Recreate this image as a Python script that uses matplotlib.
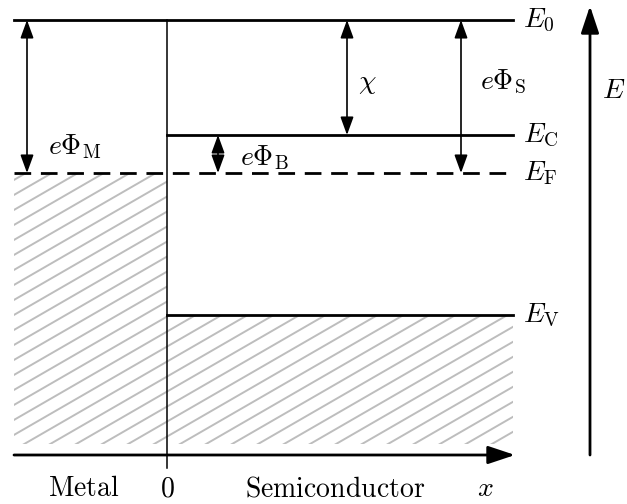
import numpy as np
import matplotlib.pyplot as plt
from matplotlib.patches import Rectangle

plt.rcParams['mathtext.fontset'] = 'cm'

# band energies (arbitrary units, vacuum level at zero)
E_vac = 0.0
E_c = -1.15
E_f = -1.53
E_v = -2.95
E_fill = -4.24          # lower edge of the filled states
E_axis = -4.35

# positions along x
x_left = 0.14
x_junction = 1.67
x_right = 5.13

# where the energy differences are marked
x_phi_m = 0.27
x_phi_b = 2.18
x_chi = 3.47
x_phi_s = 4.61

level_labels = [r'$E_0$', r'$E_\mathrm{C}$', r'$E_\mathrm{F}$', r'$E_\mathrm{V}$']
level_values = [E_vac, E_c, E_f, E_v]

fig = plt.figure(figsize=(6.27, 5.04), dpi=100)
ax = fig.add_axes([0, 0, 1, 1])
ax.set_xlim(0, 6.27)
ax.set_ylim(-4.84, 0.20)
ax.axis('off')

fs = 20
hatch_col = '#bdbdbd'


def hatched(x0, x1, y0, y1):
    clip = Rectangle((x0, y0), x1 - x0, y1 - y0, transform=ax.transData,
                     facecolor='none', edgecolor='none')
    ax.add_patch(clip)
    slope = np.tan(np.radians(30))
    xs = np.array([x0 - 1, x1 + 1])
    for c in np.arange(0.12 - 0.15 * 60, 0.12 + 0.15 * 10, 0.15):
        ln, = ax.plot(xs, slope * xs + c, color=hatch_col, lw=1.4, zorder=1)
        ln.set_clip_path(clip)


# occupied states: metal up to E_F, semiconductor valence band
hatched(x_left, x_junction, E_fill, E_f)
hatched(x_junction, x_right, E_fill, E_v)

# band edges
ax.plot([x_left, x_right], [E_vac, E_vac], color='k', lw=2, zorder=3)
ax.plot([x_junction, x_right], [E_c, E_c], color='k', lw=2, zorder=3)
ax.plot([x_junction, x_right], [E_v, E_v], color='k', lw=2, zorder=3)
ax.plot([x_left, x_right], [E_f, E_f], color='k', lw=2, dashes=(6, 3.5), zorder=3)

# interface, with a tick below the x axis
ax.plot([x_junction, x_junction], [E_vac, E_axis - 0.13], color='k', lw=1.1, zorder=3)

# coordinate arrows
axis_kw = dict(arrowstyle='-|>,head_length=0.75,head_width=0.25',
               mutation_scale=22, lw=2, color='k', shrinkA=0, shrinkB=0)
ax.annotate('', xy=(x_right + 0.02, E_axis), xytext=(x_left, E_axis), arrowprops=axis_kw)
ax.annotate('', xy=(5.90, 0.14), xytext=(5.90, E_axis), arrowprops=axis_kw)

# energy differences
arrow_kw = dict(arrowstyle='<|-|>,head_length=0.55,head_width=0.2',
                mutation_scale=20, lw=1.2, color='k', shrinkA=0, shrinkB=0)
for xa, top, bottom in [(x_phi_m, E_vac, E_f), (x_phi_b, E_c, E_f),
                        (x_chi, E_vac, E_c), (x_phi_s, E_vac, E_f)]:
    ax.annotate('', xy=(xa, bottom), xytext=(xa, top), arrowprops=arrow_kw, zorder=4)

ax.text(0.48, -1.27, r'$e\Phi_\mathrm{M}$', fontsize=fs, va='center', ha='left')
ax.text(2.40, -1.38, r'$e\Phi_\mathrm{B}$', fontsize=fs, va='center', ha='left')
ax.text(3.58, -0.62, r'$\chi$', fontsize=fs, va='center', ha='left')
ax.text(4.80, -0.62, r'$e\Phi_\mathrm{S}$', fontsize=fs, va='center', ha='left')

for lab, val in zip(level_labels, level_values):
    ax.text(5.23, val, lab, fontsize=fs, va='center', ha='left')
ax.text(6.02, -0.70, r'$E$', fontsize=fs, va='center', ha='left')

# x axis labels
ax.text(0.84, -4.68, r'$\mathrm{Metal}$', fontsize=fs, va='center', ha='center')
ax.text(x_junction, -4.68, r'$0$', fontsize=fs, va='center', ha='center')
ax.text(3.35, -4.68, r'$\mathrm{Semiconductor}$', fontsize=fs, va='center', ha='center')
ax.text(4.85, -4.68, r'$x$', fontsize=fs, va='center', ha='center')

fig.savefig('out.png', dpi=100)
